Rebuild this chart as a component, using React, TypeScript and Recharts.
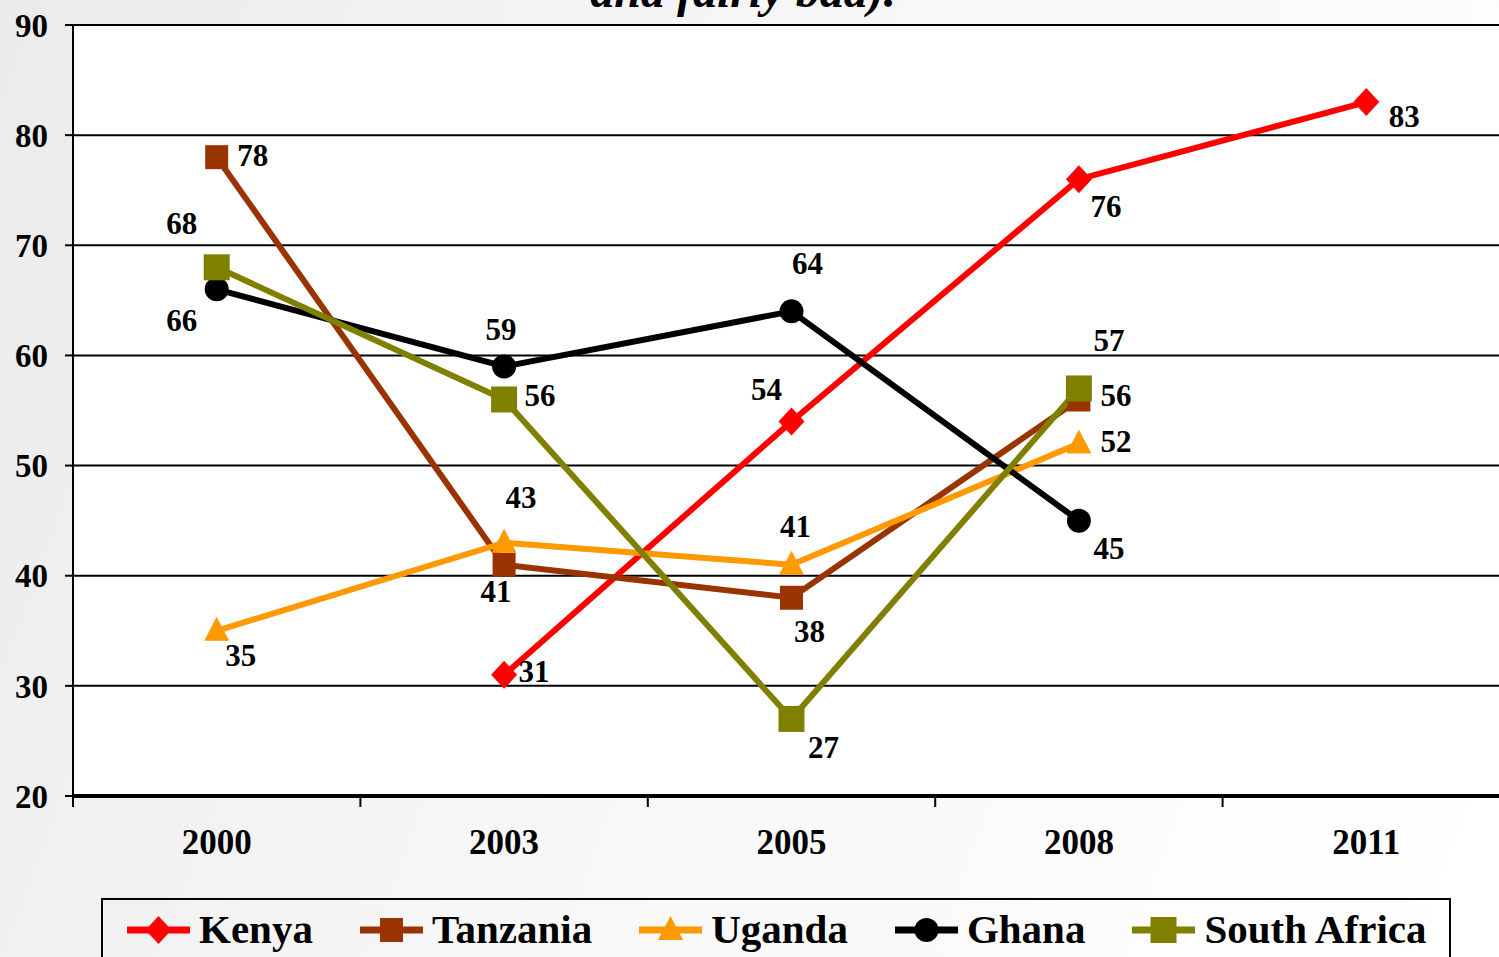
import React from "react"
import { LineChart, Line, XAxis, YAxis, CartesianGrid, Legend } from "recharts"

const years = ["2000", "2003", "2005", "2008", "2011"]
const kenya = [null, 31, 54, 76, 83]
const tanzania = [78, 41, 38, 56, null]
const uganda = [35, 43, 41, 52, null]
const ghana = [66, 59, 64, 45, null]
const southAfrica = [68, 56, 27, 57, null]
const yTicks = [20, 30, 40, 50, 60, 70, 80, 90]

const FONT = '"Liberation Serif", "Times New Roman", serif'
const CHART_W = 1510
const CHART_H = 957
const Y_AXIS_W = 73
const BAND = (CHART_W - Y_AXIS_W) / years.length

type Shape = "diamond" | "square" | "bigSquare" | "triangle" | "circle"

// label placement (dx, dy from the point) per series, per category
const series: {
  key: string
  name: string
  color: string
  shape: Shape
  offsets: [number, number][]
}[] = [
  { key: "kenya", name: "Kenya", color: "#ff0000", shape: "diamond",
    offsets: [[0, 0], [30, -4], [-25, -32], [27, 27], [38, 14]] },
  { key: "tanzania", name: "Tanzania", color: "#993300", shape: "square",
    offsets: [[36, -2], [-8, 26], [18, 33], [37, -4], [0, 0]] },
  { key: "uganda", name: "Uganda", color: "#ff9900", shape: "triangle",
    offsets: [[24, 24], [17, -46], [4, -39], [37, -2], [0, 0]] },
  { key: "ghana", name: "Ghana", color: "#000000", shape: "circle",
    offsets: [[-35, 31], [-3, -37], [16, -48], [30, 28], [0, 0]] },
  { key: "southAfrica", name: "South Africa", color: "#808000", shape: "bigSquare",
    offsets: [[-35, -44], [36, -4], [32, 28], [30, -48], [0, 0]] },
]

const data = years.map((year, i) => ({
  year,
  kenya: kenya[i],
  tanzania: tanzania[i],
  uganda: uganda[i],
  ghana: ghana[i],
  southAfrica: southAfrica[i],
}))

function marker(shape: Shape, cx: number, cy: number, color: string, k?: string) {
  switch (shape) {
    case "diamond":
      return (
        <polygon key={k} fill={color}
          points={`${cx},${cy - 14} ${cx + 13},${cy} ${cx},${cy + 14} ${cx - 13},${cy}`} />
      )
    case "square":
      return <rect key={k} x={cx - 11.5} y={cy - 12} width={23} height={24} fill={color} />
    case "bigSquare":
      return <rect key={k} x={cx - 13} y={cy - 13} width={26} height={26} fill={color} />
    case "triangle":
      return (
        <polygon key={k} fill={color}
          points={`${cx},${cy - 14} ${cx + 12.5},${cy + 10} ${cx - 12.5},${cy + 10}`} />
      )
    default:
      return <circle key={k} cx={cx} cy={cy} r={12} fill={color} />
  }
}

const XTick = (props: any) => {
  const { x, y, payload } = props
  return (
    <g>
      <line x1={x - BAND / 2} x2={x - BAND / 2} y1={y} y2={y + 11} stroke="#000" strokeWidth={2} />
      <text x={x} y={y + 58} textAnchor="middle" fontFamily={FONT} fontWeight="bold" fontSize={35} fill="#000">
        {payload.value}
      </text>
    </g>
  )
}

const LegendBox = () => (
  <div
    style={{
      boxSizing: "border-box",
      width: 1350,
      height: 80,
      border: "2px solid #000",
      paddingTop: 9,
      paddingLeft: 24,
      display: "flex",
      alignItems: "flex-start",
      gap: 47,
    }}
  >
    {series.map((s) => (
      <div key={s.key} style={{ display: "flex", alignItems: "center", height: 41 }}>
        <svg width={63} height={32} style={{ display: "block" }}>
          <line x1={0} x2={63} y1={16} y2={16} stroke={s.color} strokeWidth={7} />
          {marker(s.shape, 31.5, 16, s.color)}
        </svg>
        <span
          style={{
            marginLeft: 9,
            fontFamily: FONT,
            fontWeight: "bold",
            fontSize: 41,
            lineHeight: "41px",
            color: "#000",
            whiteSpace: "nowrap",
          }}
        >
          {s.name}
        </span>
      </div>
    ))}
  </div>
)

export default function App() {
  return (
    <div
      style={{
        position: "absolute",
        left: 0,
        top: 0,
        width: 1499,
        height: 957,
        overflow: "hidden",
        background: "linear-gradient(110deg, #ebebeb 0%, #f7f7f7 45%, #ffffff 100%)",
      }}
    >
      <LineChart
        width={CHART_W}
        height={CHART_H}
        data={data}
        margin={{ top: 25, right: 0, left: 0, bottom: 101 }}
      >
        <CartesianGrid vertical={false} stroke="#000" strokeWidth={2} fill="#ffffff" />
        <XAxis
          dataKey="year"
          height={60}
          padding={{ left: BAND / 2, right: BAND / 2 }}
          tickLine={false}
          tickSize={0}
          tickMargin={0}
          axisLine={{ stroke: "#000", strokeWidth: 4 }}
          tick={<XTick />}
          interval={0}
        />
        <YAxis
          width={Y_AXIS_W}
          domain={[20, 90]}
          ticks={yTicks}
          interval={0}
          tickSize={8}
          tickMargin={17}
          axisLine={{ stroke: "#000", strokeWidth: 2 }}
          tickLine={{ stroke: "#000", strokeWidth: 2 }}
          tick={{ fontFamily: FONT, fontWeight: "bold", fontSize: 33, fill: "#000" }}
        />
        <Legend
          layout="horizontal"
          verticalAlign="middle"
          align="center"
          content={<LegendBox />}
          wrapperStyle={{ left: 101, top: 898, width: 1350, height: 80 }}
        />
        {series.map((s) => (
          <Line
            key={s.key}
            type="linear"
            dataKey={s.key}
            name={s.name}
            stroke={s.color}
            strokeWidth={6}
            isAnimationActive={false}
            dot={(p: any) =>
              p.cy == null || p.value == null ? (
                <g key={`d-${s.key}-${p.index}`} />
              ) : (
                marker(s.shape, p.cx, p.cy, s.color, `d-${s.key}-${p.index}`)
              )
            }
            activeDot={false}
            label={(p: any) => {
              if (p.value == null || p.y == null) return <g key={`l-${s.key}-${p.index}`} />
              const [dx, dy] = s.offsets[p.index] || [0, 0]
              return (
                <text
                  key={`l-${s.key}-${p.index}`}
                  x={p.x + dx}
                  y={p.y + dy}
                  dy="0.35em"
                  textAnchor="middle"
                  fontFamily={FONT}
                  fontWeight="bold"
                  fontSize={31}
                  fill="#000"
                >
                  {p.value}
                </text>
              )
            }}
          />
        ))}
      </LineChart>
      <div
        style={{
          position: "absolute",
          left: 0,
          top: -33,
          width: 1486,
          textAlign: "center",
          fontFamily: FONT,
          fontWeight: "bold",
          fontStyle: "italic",
          fontSize: 48,
          lineHeight: "48px",
          color: "#000",
          whiteSpace: "nowrap",
        }}
      >
        and fairly bad).
      </div>
    </div>
  )
}
